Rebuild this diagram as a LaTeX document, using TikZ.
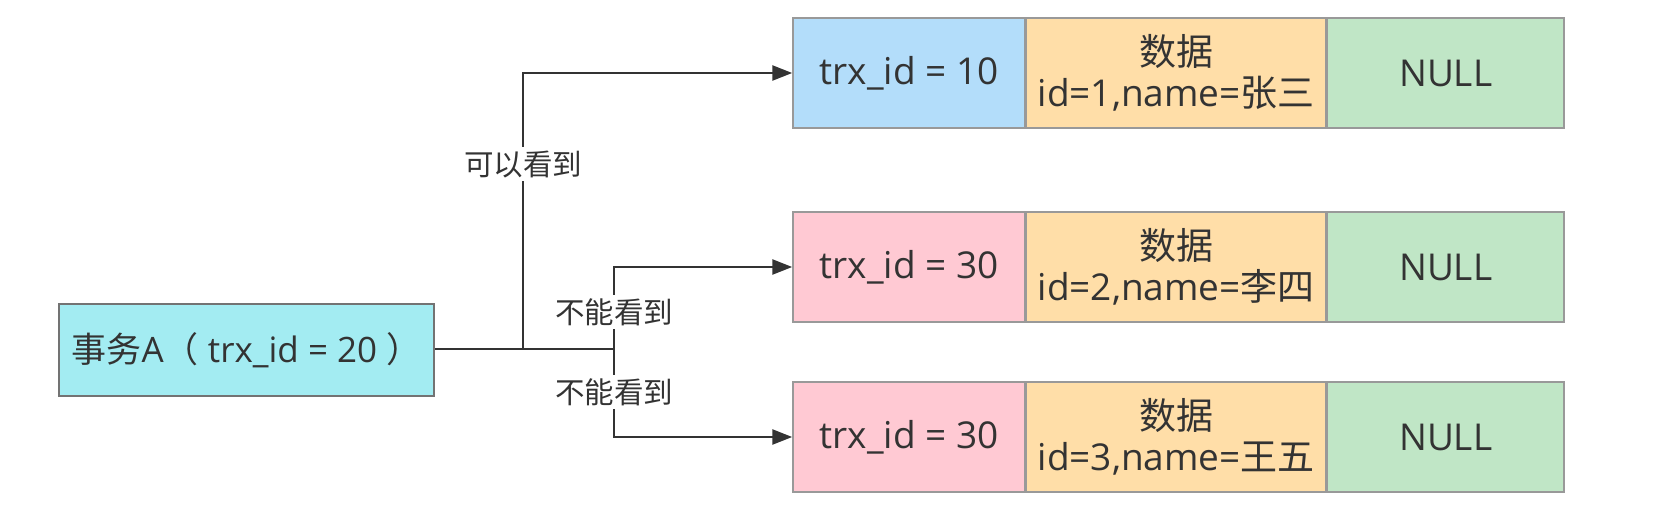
\documentclass[tikz,border=0pt]{standalone}
\usepackage{fontspec}
\setmainfont{Open Sans}
\newfontfamily\cjk{Noto Sans CJK SC}
\usepackage{xcolor}
\usetikzlibrary{positioning, arrows.meta}

\definecolor{txcyan}{HTML}{A3ECF2}
\definecolor{idblue}{HTML}{B3DDFA}
\definecolor{idpink}{HTML}{FFC9D3}
\definecolor{dataorange}{HTML}{FFDEA8}
\definecolor{nullgreen}{HTML}{C0E6C6}
\definecolor{inkgray}{HTML}{333333}

\begin{document}
\begin{tikzpicture}[
    x=1pt, y=-1pt,
    cell/.style={draw=black!40, line width=1.5pt, rectangle, minimum height=110pt, align=center,
        text=inkgray, font=\fontsize{37}{41}\selectfont, inner sep=0pt},
    idcell/.style={cell, minimum width=232pt},
    datacell/.style={cell, minimum width=299.5pt, fill=dataorange},
    nullcell/.style={cell, minimum width=236.5pt, fill=nullgreen},
    txbox/.style={draw=black!55, line width=2pt, rectangle, minimum width=375pt, minimum height=92pt,
        fill=txcyan, text=inkgray, font=\fontsize{35}{40}\selectfont},
    lbl/.style={fill=white, text=inkgray, inner sep=3pt, font=\cjk\fontsize{29.5}{32}\selectfont},
    line/.style={draw=inkgray, line width=2.5pt},
    arrow/.style={line, -{Triangle[length=20pt, width=15pt]}}
]
    \useasboundingbox (0,0) rectangle (1656,520);

    % transaction
    \node[txbox] (txA) at (246.5,350) {{\cjk 事务}A{\cjk （} trx\_id = 20 {\cjk ）}};

    % rows
    \node[idcell, fill=idblue] (r1id) at (909,73) {trx\_id = 10};
    \node[datacell, right=0pt of r1id] (r1data) {{\cjk 数据}\\id=1,name={\cjk 张三}};
    \node[nullcell, right=0pt of r1data] (r1null) {NULL};

    \node[idcell, fill=idpink] (r2id) at (909,267) {trx\_id = 30};
    \node[datacell, right=0pt of r2id] (r2data) {{\cjk 数据}\\id=2,name={\cjk 李四}};
    \node[nullcell, right=0pt of r2data] (r2null) {NULL};

    \node[idcell, fill=idpink] (r3id) at (909,437) {trx\_id = 30};
    \node[datacell, right=0pt of r3id] (r3data) {{\cjk 数据}\\id=3,name={\cjk 王五}};
    \node[nullcell, right=0pt of r3data] (r3null) {NULL};

    % branches
    \coordinate (j1) at (523,349);
    \coordinate (j2) at (614,349);
    \draw[line] (txA.east |- j1) -- (j2);
    \draw[arrow] (j1) |- (r1id.west);
    \draw[arrow] (j2) |- (r2id.west);
    \draw[arrow] (j2) |- (r3id.west);

    \node[lbl] (see) at (523,164) {可以看到};
    \node[lbl] (nosee1) at (614,312) {不能看到};
    \node[lbl] (nosee2) at (614,392) {不能看到};
\end{tikzpicture}
\end{document}
